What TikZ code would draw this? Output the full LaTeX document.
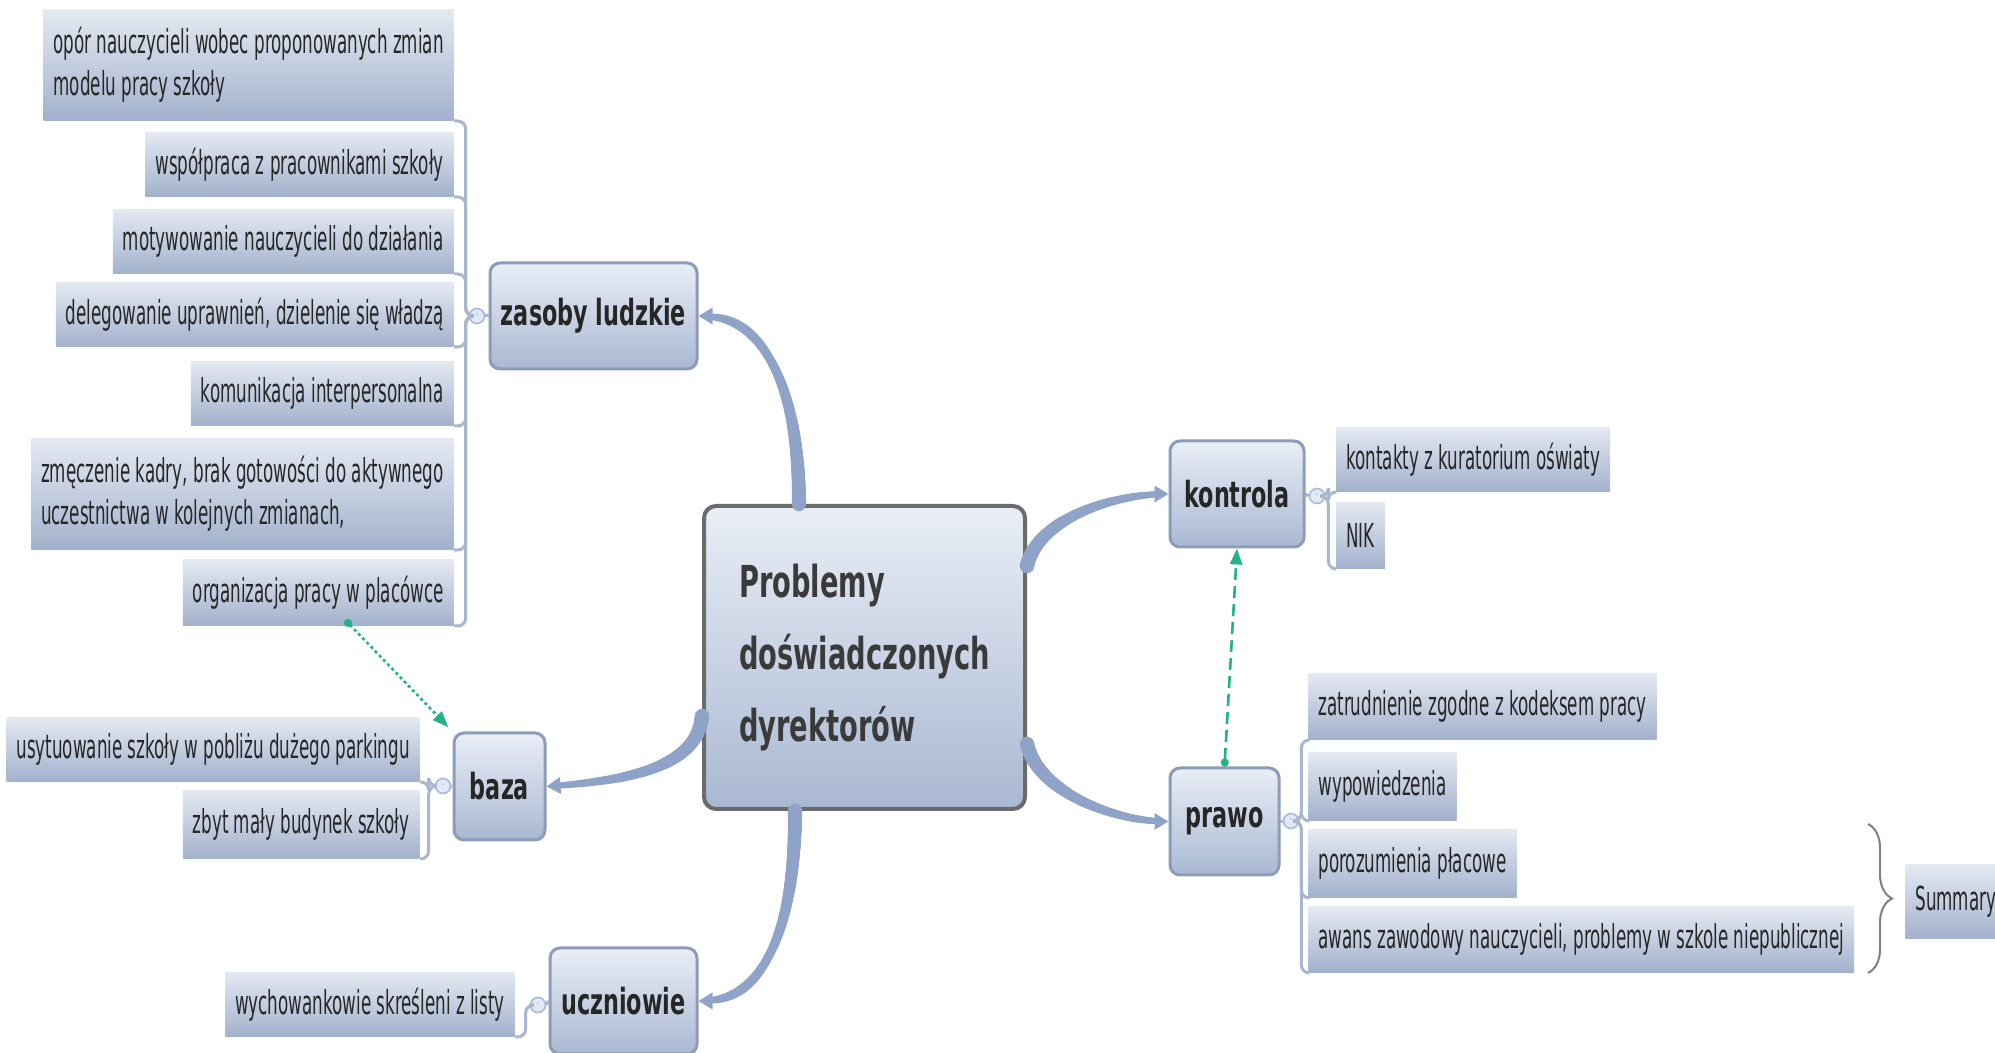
\documentclass[tikz,border=0pt]{standalone}
\usepackage{fontspec}
\setmainfont{DejaVu Sans}[FakeStretch=0.507]
\newfontfamily\topicfont{DejaVu Sans}[FakeStretch=0.62]
\usetikzlibrary{arrows.meta,decorations.pathreplacing,decorations.markings}

\definecolor{leaftop}{HTML}{E4E9F2}
\definecolor{leafbot}{HTML}{A2B1CC}
\definecolor{leaftext}{HTML}{262626}
\definecolor{topictop}{HTML}{E9EEF6}
\definecolor{topicbot}{HTML}{A9B8D2}
\definecolor{topicline}{HTML}{8C9CB9}
\definecolor{centerline}{HTML}{6B6B6B}
\definecolor{centertext}{HTML}{3A3A3A}
\definecolor{curve}{HTML}{8FA3C8}
\definecolor{bracket}{HTML}{A9B6CE}
\definecolor{minusline}{HTML}{A9B9D9}
\definecolor{minusfill}{HTML}{E2E9F6}
\definecolor{relgreen}{HTML}{22B38A}

\begin{document}
\begin{tikzpicture}[x=0.5pt,y=0.5pt,
  leaf/.style={top color=leaftop,bottom color=leafbot,text=leaftext,
    font=\fontsize{16.5}{21}\selectfont,inner xsep=5pt,minimum height=32pt,align=left},
  topic/.style={rounded corners=5pt,draw=topicline,line width=1.5pt,
    top color=topictop,bottom color=topicbot,text=leaftext,
    font=\topicfont\fontsize{18}{22}\selectfont\bfseries,minimum height=53pt},
  main topic/.style={rounded corners=6pt,draw=centerline,line width=2pt,
    top color=topictop,bottom color=topicbot,text=centertext,align=left,
    font=\topicfont\fontsize{22}{36}\selectfont\bfseries,minimum width=160.5pt,minimum height=151.5pt},
  minus/.style={circle,draw=minusline,fill=minusfill,line width=0.8pt,
    minimum size=7.5pt,inner sep=0pt,text=minusline,font=\fontsize{7}{7}\selectfont},
  bracket/.style={draw=bracket,line width=1.5pt,rounded corners=4pt},
  branch/.style={draw=curve,line width=2.4pt,-{Triangle[length=7pt,width=8pt]},
    postaction={decorate,decoration={markings,
      mark=between positions 0 and 0.97 step 0.6pt with {
        \pgfmathsetmacro\brw{3.6-2.2*(\pgfkeysvalueof{/pgf/decoration/mark info/distance from start})/\pgfdecoratedpathlength}
        \fill[curve] (0,0) circle (\brw pt);}}}},
  relation/.style={draw=relgreen,line width=1.3pt,
    {Circle[length=4pt]}-{Triangle[length=8pt,width=6pt]}}]

  \path[use as bounding box,fill=white] (0,0) rectangle (1995,1053);

  \node[main topic] (probl) at (864.5,395.5) {Problemy\\doświadczonych\\dyrektorów};

  \node[topic,minimum width=103.5pt] (zasoby) at (593.5,737) {zasoby ludzkie};
  \node[topic,minimum width=45.5pt,minimum height=53.5pt] (baza) at (499.5,266.5) {baza};
  \node[topic,minimum width=73.5pt] (uczniowie) at (623.5,52) {uczniowie};
  \node[topic,minimum width=67pt] (kontrola) at (1237,559) {kontrola};
  \node[topic,minimum width=54.5pt,minimum height=53.5pt] (prawo) at (1224.5,231.5) {prawo};

  \node[minus] (zasobym) at (477,737) {-};
  \node[minus] (bazam) at (443,267) {-};
  \node[minus] (uczniowiem) at (538,48) {-};
  \node[minus] (kontrolam) at (1317,557) {-};
  \node[minus] (prawom) at (1291,232) {-};

  \node[leaf,anchor=south east,minimum height=55.5pt] (opor) at (454,932)
    {opór nauczycieli wobec proponowanych zmian\\modelu pracy szkoły};
  \node[leaf,anchor=south east] (wspolpraca) at (454,856) {współpraca z pracownikami szkoły};
  \node[leaf,anchor=south east] (motyw) at (454,779) {motywowanie nauczycieli do działania};
  \node[leaf,anchor=south east] (deleg) at (454,706) {delegowanie uprawnień, dzielenie się władzą};
  \node[leaf,anchor=south east] (komun) at (454,627) {komunikacja interpersonalna};
  \node[leaf,anchor=south east,minimum height=55.5pt] (zmecz) at (454,503)
    {zmęczenie kadry, brak gotowości do aktywnego\\uczestnictwa w kolejnych zmianach,};
  \node[leaf,anchor=south east,minimum height=33pt] (organiz) at (454,427) {organizacja pracy w placówce};

  \node[leaf,anchor=south east] (usyt) at (420,271) {usytuowanie szkoły w pobliżu dużego parkingu};
  \node[leaf,anchor=south east,minimum height=34pt] (budynek) at (420,194) {zbyt mały budynek szkoły};

  \node[leaf,anchor=south east] (wychow) at (515,16) {wychowankowie skreśleni z listy};

  \node[leaf,anchor=south west] (kurat) at (1336,561) {kontakty z kuratorium oświaty};
  \node[leaf,anchor=south west,minimum height=33pt] (nik) at (1336,484) {NIK};

  \node[leaf,anchor=south west,minimum height=33pt] (zatr) at (1308,313) {zatrudnienie zgodne z kodeksem pracy};
  \node[leaf,anchor=south west,minimum height=34pt] (wypow) at (1308,232) {wypowiedzenia};
  \node[leaf,anchor=south west,minimum height=34pt] (poroz) at (1308,155) {porozumienia płacowe};
  \node[leaf,anchor=south west,minimum height=33pt] (awans) at (1308,80)
    {awans zawodowy nauczycieli, problemy w szkole niepublicznej};

  \node[leaf,anchor=west,minimum height=37pt] (summary) at (1905,151) {Summary};

  \coordinate (bracetop) at (1868,229);
  \coordinate (bracebot) at (1868,80);

  \foreach \sub in {opor,wspolpraca,motyw,deleg,komun,zmecz,organiz}
    \draw[bracket] (zasobym.west) -- ++(-3,0) |- (\sub.south east);
  \foreach \sub in {usyt,budynek}
    \draw[bracket] (bazam.west) -- ++(-6,0) |- (\sub.south east);
  \draw[bracket] (uczniowiem.west) -- ++(-4,0) |- (wychow.south east);
  \foreach \sub in {kurat,nik}
    \draw[bracket] (kontrolam.east) -- ++(3,0) |- (\sub.south west);
  \foreach \sub in {zatr,wypow,poroz,awans}
    \draw[bracket] (prawom.east) -- ++(2,0) |- (\sub.south west);

  \draw[bracket] (zasoby.west) -- (zasobym.east);
  \draw[bracket] (baza.west) -- (bazam.east);
  \draw[bracket] (uczniowie.west) -- (uczniowiem.east);
  \draw[bracket] (kontrola.east) -- (kontrolam.west);
  \draw[bracket] (prawo.east) -- (prawom.west);

  \path[branch] ([xshift=-32.75pt]probl.north) .. controls +(0,110) and +(70,0) .. (zasoby.east);
  \path[branch] ([yshift=-29.25pt]probl.west) .. controls +(-5,-55) and +(70,5) .. (baza.east);
  \path[branch] ([xshift=-34.75pt]probl.south) .. controls +(0,-110) and +(70,0) .. (uczniowie.east);
  \path[branch] ([yshift=45.75pt]probl.east) .. controls +(10,45) and +(-60,0) .. (kontrola.west);
  \path[branch] ([yshift=-43.25pt]probl.east) .. controls +(10,-45) and +(-60,0) .. (prawo.west);

  \draw[relation,dash pattern=on 1.5pt off 1.5pt,shorten >=3pt]
    ([xshift=13.5pt,yshift=3pt]organiz.south) -- (baza.north west);
  \draw[relation,dash pattern=on 6pt off 3pt] (prawo.north) -- (kontrola.south);

  \draw[gray,line width=1pt,decorate,decoration={brace,amplitude=12pt}] (bracetop) -- (bracebot);
\end{tikzpicture}
\end{document}
